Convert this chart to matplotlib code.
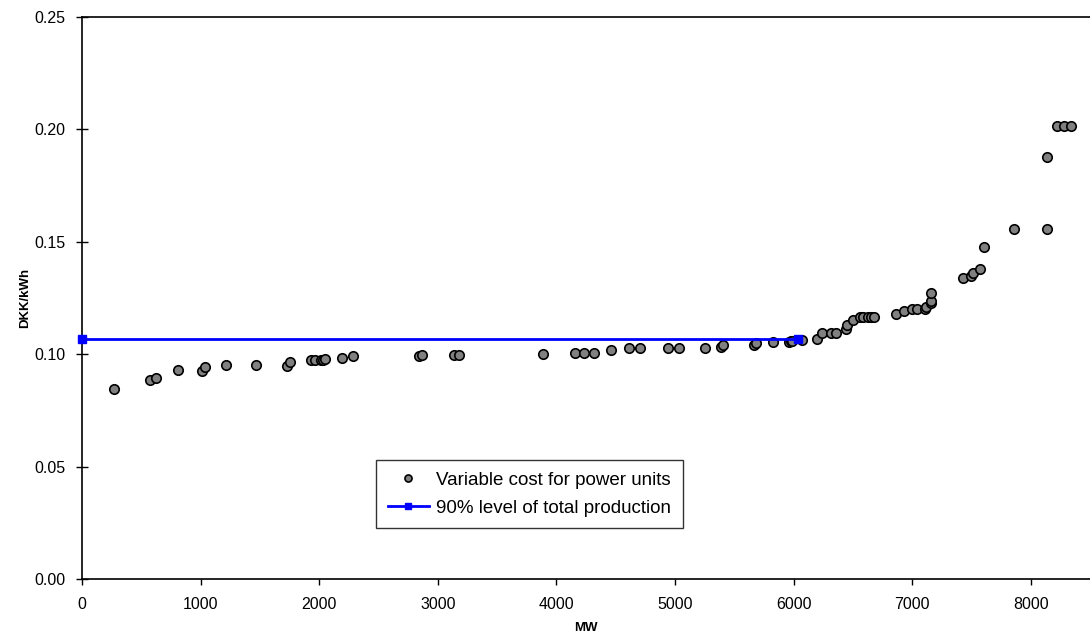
import matplotlib
matplotlib.use("Agg")
import matplotlib.pyplot as plt
import numpy as np

plt.rcParams['font.family'] = ['Liberation Sans', 'DejaVu Sans']

# Variable cost of power units (cumulative capacity MW, DKK/kWh)
unit_mw = [272, 573, 623, 808, 1008, 1038, 1213, 1471, 1732, 1752,
           1928, 1962, 2013, 2032, 2046, 2195, 2285, 2841, 2866, 3133,
           3183, 3885, 4157, 4236, 4314, 4463, 4609, 4705, 4943, 5038,
           5255, 5387, 5404, 5670, 5682, 5827, 5962, 5981, 5990, 6072,
           6195, 6243, 6313, 6355, 6445, 6451, 6501, 6557, 6590, 6625,
           6653, 6678, 6863, 6928, 6995, 7037, 7109, 7121, 7160, 7160,
           7160, 7427, 7495, 7515, 7575, 7605, 7860, 8135, 8140, 8222,
           8284, 8340]
unit_cost = [0.0846, 0.0886, 0.0893, 0.0930, 0.0927, 0.0942, 0.0951, 0.0951, 0.0949, 0.0966,
             0.0972, 0.0972, 0.0972, 0.0975, 0.0978, 0.0985, 0.0992, 0.0992, 0.0998, 0.0998,
             0.0998, 0.1000, 0.1006, 0.1006, 0.1006, 0.1019, 0.1027, 0.1027, 0.1027, 0.1027,
             0.1027, 0.1031, 0.1040, 0.1043, 0.1049, 0.1055, 0.1055, 0.1058, 0.1059, 0.1064,
             0.1068, 0.1096, 0.1096, 0.1096, 0.1113, 0.1132, 0.1153, 0.1166, 0.1166, 0.1166,
             0.1166, 0.1166, 0.1181, 0.1194, 0.1202, 0.1202, 0.1202, 0.1208, 0.1227, 0.1238,
             0.1272, 0.1341, 0.1350, 0.1360, 0.1380, 0.1475, 0.1557, 0.1557, 0.1878, 0.2017,
             0.2017, 0.2017]

# 90% level of total production
level_mw = [0, 6035]
level_cost = [0.1066, 0.1066]

fig = plt.figure(figsize=(10.9, 6.44), dpi=100)
ax = fig.add_axes([82 / 1090, 1 - 579 / 644, 1 - 82 / 1090, (579 - 17) / 644])

ax.plot(level_mw, level_cost, '-', color='#0000ff', lw=2, marker='s', ms=6,
        mfc='#0000ff', mec='#0000ff', label='90% level of total production',
        zorder=4, clip_on=False)
ax.plot(unit_mw, unit_cost, 'o', ms=6.8, mfc='#808080', mec='black', mew=1.2,
        label='Variable cost for power units', zorder=3)

ax.set_xlim(0, 8500)
ax.set_ylim(0, 0.25)
ax.set_xticks(np.arange(0, 8001, 1000))
ax.set_yticks(np.arange(0, 0.2501, 0.05))
ax.yaxis.set_major_formatter(matplotlib.ticker.FormatStrFormatter('%.2f'))
ax.tick_params(axis='y', direction='inout', length=8, width=1, labelsize=11.5, pad=8)
ax.tick_params(axis='x', direction='out', length=4, width=1, labelsize=11.5, pad=9)
ax.spines['right'].set_visible(False)
for s in ['left', 'bottom', 'top']:
    ax.spines[s].set_linewidth(1.2)

ax.set_xlabel('MW', fontsize=9.5, fontweight='bold', labelpad=7)
ax.set_ylabel('DKK/kWh', fontsize=9.5, fontweight='bold', labelpad=2)

handles, labels = ax.get_legend_handles_labels()
leg = ax.legend(handles[::-1], labels[::-1], loc='center',
                bbox_to_anchor=(0.444, 0.151), fontsize=13.5, frameon=True,
                fancybox=False, edgecolor='black', borderpad=0.6,
                labelspacing=0.6, handlelength=2.2, handletextpad=0.4,
                markerscale=0.75)
leg.get_frame().set_linewidth(1)

fig.savefig('out.png', dpi=100)
